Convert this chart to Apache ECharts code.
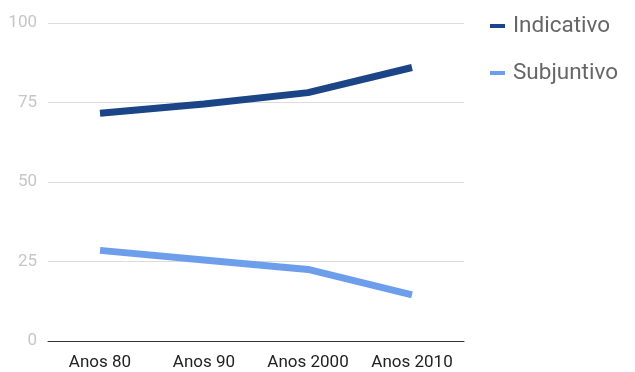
<!DOCTYPE html>
<html>
<head>
<meta charset="utf-8">
<script src="https://cdn.jsdelivr.net/npm/echarts@6/dist/echarts.min.js"></script>
<style>
  html, body { margin: 0; padding: 0; background: #fff; }
  #chart { width: 635px; height: 372px; }
</style>
</head>
<body>
<div id="chart"></div>
<script>
// Decades on the x axis
const categories = ['Anos 80', 'Anos 90', 'Anos 2000', 'Anos 2010'];
// Share (%) of each mood per decade
const indicativo = [71.6, 74.5, 78.1, 86];
const subjuntivo = [28.5, 25.5, 22.5, 14.5];
const yTicks = [0, 25, 50, 75, 100];

const chart = echarts.init(document.getElementById('chart'));
chart.setOption({
  animation: false,
  textStyle: { fontFamily: 'Roboto' },
  grid: { left: 48, right: 171, top: 23, bottom: 31, containLabel: false },
  legend: {
    orient: 'vertical',
    left: 490,
    top: 14,
    padding: 0,
    itemGap: 23,
    itemWidth: 15,
    itemHeight: 4,
    icon: 'rect',
    textStyle: { fontSize: 22.5, lineHeight: 24, color: '#666', fontFamily: 'Roboto', padding: [0, 0, 0, 3] },
    data: ['Indicativo', 'Subjuntivo']
  },
  xAxis: {
    type: 'category',
    data: categories,
    axisLine: { lineStyle: { color: '#333', width: 1 } },
    axisTick: { show: false },
    axisLabel: { color: '#222', fontSize: 17, margin: 13, interval: 0, hideOverlap: false }
  },
  yAxis: {
    type: 'value',
    min: 0,
    max: 100,
    interval: 25,
    axisLine: { show: false },
    axisTick: { show: false },
    axisLabel: {
      color: '#c6c6c6',
      fontSize: 17,
      margin: 11,
      formatter: v => yTicks.includes(v) ? String(v) : ''
    },
    splitLine: { lineStyle: { color: '#dcdcdc', width: 1 } }
  },
  series: [
    {
      name: 'Indicativo',
      type: 'line',
      data: indicativo,
      symbol: 'none',
      color: '#1c4587',
      lineStyle: { width: 7, color: '#1c4587' }
    },
    {
      name: 'Subjuntivo',
      type: 'line',
      data: subjuntivo,
      symbol: 'none',
      color: '#6d9eeb',
      lineStyle: { width: 7, color: '#6d9eeb' }
    }
  ]
});
</script>
</body>
</html>
